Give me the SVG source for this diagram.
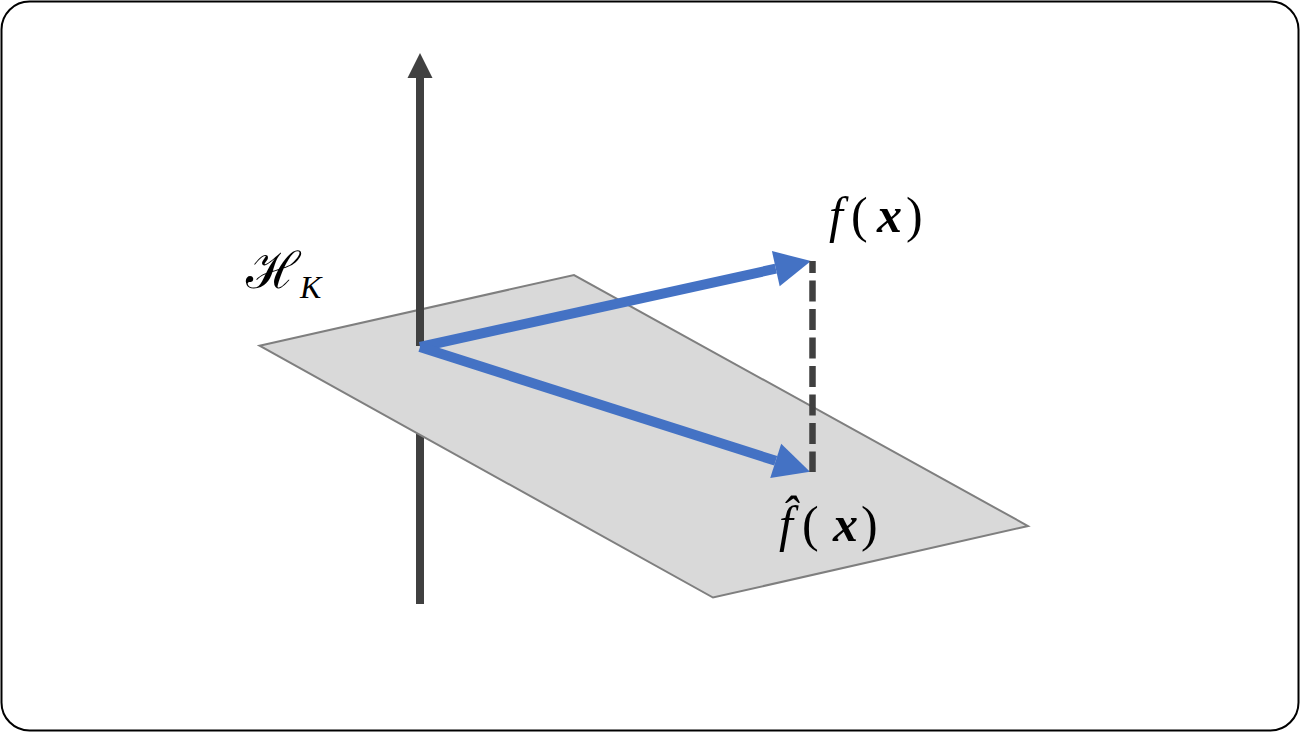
<svg xmlns="http://www.w3.org/2000/svg" width="1300" height="732" viewBox="0 0 1300 732">
  <style>
    .axis { stroke: #404040; stroke-width: 8; fill: none; }
    .vec { stroke: #4472C4; stroke-width: 10; fill: none; }
    .dash { stroke: #404040; stroke-width: 6.5; fill: none; stroke-dasharray: 21 7.5; stroke-dashoffset: 9; }
    .plane { fill: #D9D9D9; stroke: #7F7F7F; stroke-width: 2; }
    .lbl { font-family: "Liberation Serif", "DejaVu Serif", serif; font-size: 50px; fill: #000; }
    .hk { font-family: "Liberation Serif", "DejaVu Serif", serif; font-size: 51px; fill: #000; }
    .sub { font-family: "Liberation Serif", "DejaVu Serif", serif; font-size: 32px; font-style: italic; fill: #000; }
    .it { font-style: italic; }
    .bi { font-style: italic; font-weight: bold; }
  </style>
  <defs>
    <marker id="ahBlue" markerUnits="userSpaceOnUse" markerWidth="36" markerHeight="36" viewBox="0 0 36 36" refX="0" refY="18" orient="auto" overflow="visible">
      <path d="M0,0 L36,18 L0,36 z" fill="#4472C4"/>
    </marker>
    <marker id="ahAxis" markerUnits="userSpaceOnUse" markerWidth="25" markerHeight="25" viewBox="0 0 25 25" refX="0" refY="12.5" orient="auto" overflow="visible">
      <path d="M0,0 L25,12.5 L0,25 z" fill="#404040"/>
    </marker>
  </defs>

  <rect id="frame" x="1.5" y="1.5" width="1297" height="729" rx="28" ry="28" fill="#FFFFFF" stroke="#000000" stroke-width="2"/>

  <g id="axis-lower">
    <line class="axis" x1="420" y1="346" x2="420" y2="604"/>
  </g>

  <g id="plane-HK">
    <polygon class="plane" points="259.5,345.7 574,275 1028,526 713,597.5"/>
  </g>

  <g id="label-HK">
    <text class="hk" x="246" y="288">ℋ</text>
    <text class="sub" x="300" y="298">K</text>
  </g>

  <g id="connectors">
    <line class="axis" x1="420" y1="346" x2="420" y2="78" marker-end="url(#ahAxis)"/>
    <line class="vec" x1="420" y1="347" x2="775.8" y2="268.7" marker-end="url(#ahBlue)"/>
    <line class="vec" x1="420" y1="347" x2="775.7" y2="460.8" marker-end="url(#ahBlue)"/>
    <line class="dash" x1="812.5" y1="261" x2="812.5" y2="472"/>
  </g>

  <g id="node-f">
    <text class="lbl"><tspan class="it" x="829" y="232">f</tspan><tspan x="851" y="232">(</tspan><tspan class="bi" x="877" y="232">x</tspan><tspan x="906" y="232">)</tspan></text>
  </g>

  <g id="node-fhat">
    <text class="lbl"><tspan class="it" x="779" y="541">f&#x302;</tspan><tspan x="802" y="541">(</tspan><tspan class="bi" x="833" y="541">x</tspan><tspan x="861" y="541">)</tspan></text>
  </g>
</svg>
